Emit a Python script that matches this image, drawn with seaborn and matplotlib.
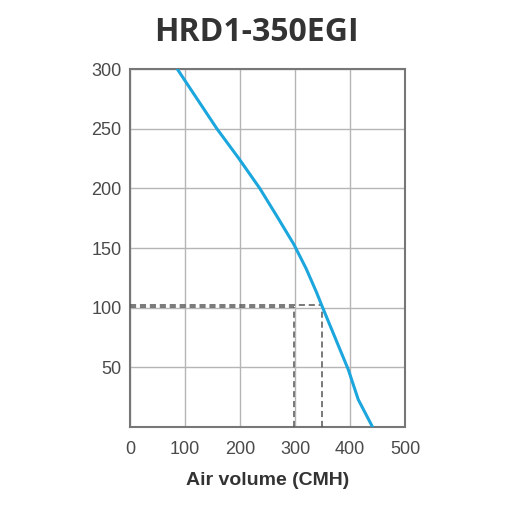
import matplotlib
matplotlib.use("Agg")
import matplotlib.pyplot as plt
import seaborn as sns
import pandas as pd

# curve
air_volume = [86, 122, 158, 198, 236, 268, 298, 320, 339, 349, 397, 415, 441]
pressure = [300, 275, 250, 225, 200, 176, 153, 133, 113, 101.5, 48, 23, 0]

# operating point guides
guide_a = (349, 102.5)
guide_b = (298, 101)

x_ticks = [0, 100, 200, 300, 400, 500]
y_ticks = [50, 100, 150, 200, 250, 300]

df = pd.DataFrame({"air_volume": air_volume, "pressure": pressure})

sns.set_style("white")
plt.rcParams["font.family"] = ["Liberation Sans", "DejaVu Sans"]

fig = plt.figure(figsize=(5.12, 5.12), dpi=100)
ax = fig.add_axes([0.254, 0.166, 0.537, 0.699])

sns.lineplot(data=df, x="air_volume", y="pressure", ax=ax, color="#1ba6dd",
             linewidth=2.2, sort=False, zorder=4)

for gx, gy in [guide_a, guide_b]:
    ax.plot([0, gx], [gy, gy], color="#555555", linestyle=(0, (4, 2.5)),
            linewidth=1.1, zorder=3)
    ax.plot([gx, gx], [0, gy], color="#555555", linestyle=(0, (4, 2.5)),
            linewidth=1.1, zorder=3)

ax.set_xlim(0, 500)
ax.set_ylim(0, 300)
ax.set_xticks(x_ticks)
ax.set_yticks(y_ticks)
ax.grid(True, color="#b5b5b5", linewidth=1.0)
ax.set_axisbelow(True)
for s in ax.spines.values():
    s.set_color("#777777")
    s.set_linewidth(1.5)
ax.tick_params(length=0, labelsize=13, labelcolor="#4a4a4a")
ax.tick_params(axis="x", pad=10)
ax.tick_params(axis="y", pad=6)
ax.set_xlabel("Air volume (CMH)", fontsize=14, fontweight="bold",
              color="#333333", labelpad=10)
ax.set_ylabel("")

fig.text(0.5, 0.937, "HRD1-350EGI", ha="center", va="center", fontsize=23,
         fontweight="bold", color="#333333", family=["Open Sans", "DejaVu Sans"])

fig.savefig("out.png", dpi=100, facecolor="white")
